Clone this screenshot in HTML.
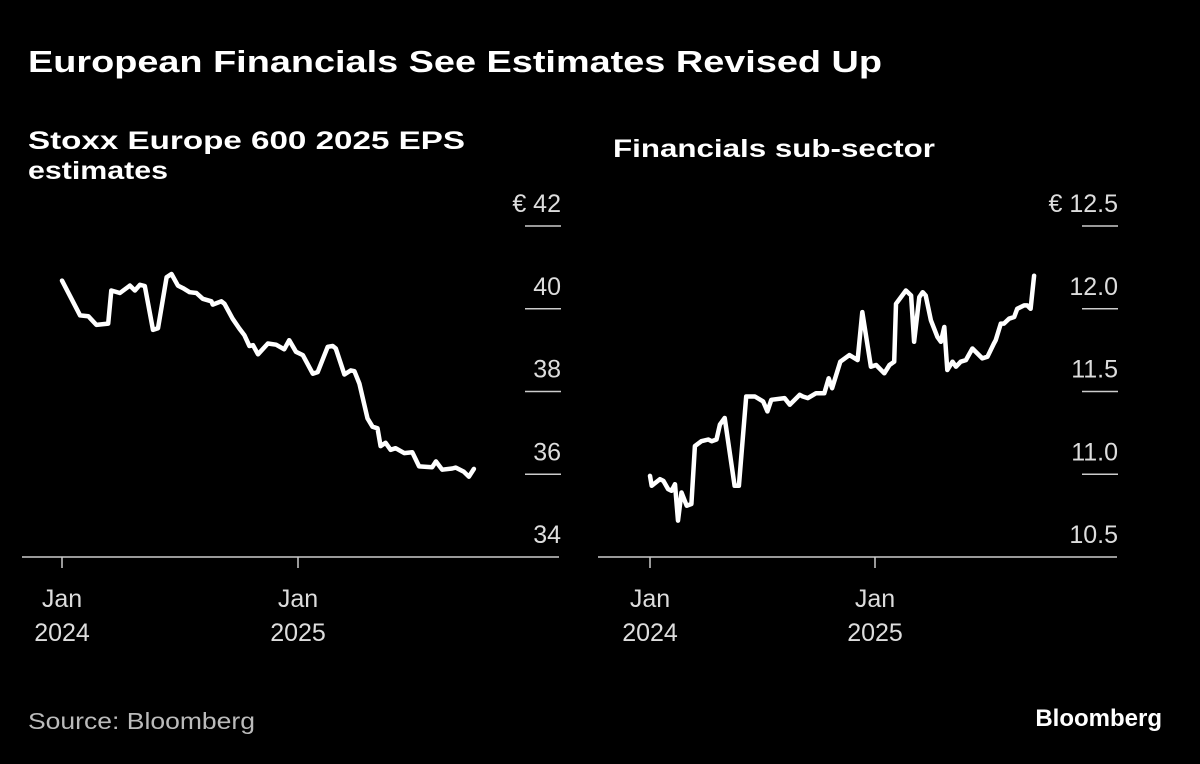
<!DOCTYPE html>
<html><head><meta charset="utf-8"><style>
body{margin:0;background:#000;width:1200px;height:764px;overflow:hidden;font-family:"Liberation Sans",sans-serif;}
svg{display:block}
</style></head><body>
<svg width="1200" height="764">
<text x="28" y="72" fill="#fff" font-size="31" font-weight="bold" textLength="854" lengthAdjust="spacingAndGlyphs">European Financials See Estimates Revised Up</text>
<text x="28" y="149" fill="#fff" font-size="25" font-weight="bold" textLength="437" lengthAdjust="spacingAndGlyphs">Stoxx Europe 600 2025 EPS</text>
<text x="28" y="179" fill="#fff" font-size="25" font-weight="bold" textLength="140" lengthAdjust="spacingAndGlyphs">estimates</text>
<text x="613" y="157" fill="#fff" font-size="25" font-weight="bold" textLength="322" lengthAdjust="spacingAndGlyphs">Financials sub-sector</text>
<g id="left"></g>
<g id="right"></g>
<text x="28" y="729" fill="#bbb" font-size="23" textLength="227" lengthAdjust="spacingAndGlyphs">Source: Bloomberg</text>
<text x="1162" y="726" fill="#fff" font-size="24" font-weight="bold" text-anchor="end">Bloomberg</text>
</svg>
<script>
const leftWeeks=[0,4,5.8,7.6,10.2,10.9,12.8,15,16.1,17.2,18.3,20.1,21.2,23.1,24.2,25.6,26.7,28.2,29.7,31.1,33,33.3,35.2,35.9,37.7,39.2,40.3,41.4,42.2,43.3,45.5,47.3,49.1,50.2,51.7,53.2,55.4,56.5,58.7,59.8,60.5,62.4,63.8,64.6,65.7,67.5,68.6,69.7,70.4,71.5,72.6,73.7,75.6,77.4,78.9,81.8,82.6,84,86.2,87,88.8,89.9,91];
const leftValues=[40.68,39.84,39.82,39.61,39.64,40.44,40.38,40.56,40.44,40.58,40.55,39.49,39.53,40.76,40.84,40.56,40.5,40.4,40.38,40.24,40.18,40.1,40.18,40.12,39.76,39.52,39.36,39.1,39.12,38.9,39.16,39.13,39.02,39.24,38.96,38.88,38.43,38.47,39.08,39.1,39.04,38.41,38.51,38.49,38.19,37.35,37.15,37.11,36.68,36.76,36.59,36.63,36.51,36.53,36.19,36.17,36.31,36.11,36.14,36.16,36.06,35.94,36.13];
const leftTicks=[42,40,38,36,34];
const rightWeeks=[0,0.4,2.3,3.1,4.2,5,5.8,6.5,7.3,8.5,9.6,10.4,11.9,13.5,14.3,15.4,16.2,17.3,19.6,20.6,22.3,24.3,26.2,27.2,28.1,31.2,32.4,34.7,35.4,36.6,38.5,40.4,41.4,42.2,44.1,46.2,48.1,49.2,51.2,52.4,54.3,55.5,56.6,57,59.3,60.5,61.2,62.4,63.2,63.9,65.1,66.6,67.4,68.2,68.9,70.1,70.9,72,73.2,74.7,77,78.2,79.7,80.1,81.3,82,83.2,84.4,85.1,86.7,87.4,88.2,89];
const rightValues=[10.99,10.93,10.97,10.96,10.91,10.9,10.94,10.72,10.89,10.81,10.82,11.17,11.2,11.21,11.2,11.21,11.3,11.34,10.93,10.93,11.47,11.47,11.44,11.38,11.45,11.46,11.42,11.48,11.47,11.46,11.49,11.49,11.58,11.52,11.68,11.72,11.69,11.98,11.65,11.66,11.61,11.66,11.68,12.03,12.11,12.08,11.8,12.07,12.1,12.08,11.93,11.83,11.8,11.89,11.63,11.68,11.65,11.68,11.69,11.76,11.7,11.71,11.79,11.81,11.91,11.91,11.94,11.95,12,12.02,12.02,12,12.2];
const rightTicks=[12.5,12.0,11.5,11.0,10.5];
const xTickWeeks=[0,52.14];
const xTickYears=["2024","2025"];
const NS="http://www.w3.org/2000/svg";
function mk(tag,attrs,parent,text){const e=document.createElementNS(NS,tag);for(const k in attrs)e.setAttribute(k,attrs[k]);if(text!==undefined)e.textContent=text;parent.appendChild(e);return e;}
function panel(g,cfg){
  const xs=w=>cfg.x0+w*cfg.pxPerWeek;
  const ys=v=>cfg.yTop+(cfg.vMax-v)/(cfg.vMax-cfg.vMin)*(cfg.yBot-cfg.yTop);
  cfg.ticks.forEach((t,i)=>{
    const y=ys(t);
    const lbl=mk('text',{x:cfg.labelX,y:y-14,fill:'#ddd','font-size':25,'text-anchor':'end'},g,(i===0?'€ ':'')+cfg.fmt(t));
    
    
    if(i<cfg.ticks.length-1){
      const ln=mk('line',{x1:cfg.labelX-36,x2:cfg.labelX,y1:y,y2:y,stroke:'#ccc','stroke-width':1.5},g);
      
      
    }
  });
  const base=mk('line',{x1:cfg.baseX1,x2:cfg.baseX2,y1:cfg.yBot,y2:cfg.yBot,stroke:'#ccc','stroke-width':1.5},g);
  
  
  xTickWeeks.forEach((w,i)=>{
    const x=xs(w);
    const a=mk('text',{x:x,y:607,fill:'#ddd','font-size':25,'text-anchor':'middle'},g,'Jan');
    
    
    const b=mk('text',{x:x,y:641,fill:'#ddd','font-size':25,'text-anchor':'middle'},g,xTickYears[i]);
    
    
    const tk=mk('line',{x1:x,x2:x,y1:cfg.yBot,y2:cfg.yBot+11,stroke:'#ccc','stroke-width':1.5},g);
    
    
  });
  const d=cfg.weeks.map((w,i)=>(i?'L':'M')+xs(w).toFixed(1)+','+ys(cfg.values[i]).toFixed(1)).join('');
  const p=mk('path',{d:d,fill:'none',stroke:'#fff','stroke-width':4.5,'stroke-linejoin':'round','stroke-linecap':'round'},g);
  
  
}
panel(document.getElementById('left'),{x0:62,pxPerWeek:236/52.14,yTop:226,yBot:557,vMax:42,vMin:34,ticks:leftTicks,labelX:561,baseX1:22,baseX2:559,weeks:leftWeeks,values:leftValues,fmt:t=>String(t),name:'eps-line'});
panel(document.getElementById('right'),{x0:650,pxPerWeek:225/52.14,yTop:226,yBot:557,vMax:12.5,vMin:10.5,ticks:rightTicks,labelX:1118,baseX1:598,baseX2:1117,weeks:rightWeeks,values:rightValues,fmt:t=>t.toFixed(1),name:'financials-line'});
</script>
</body></html>
